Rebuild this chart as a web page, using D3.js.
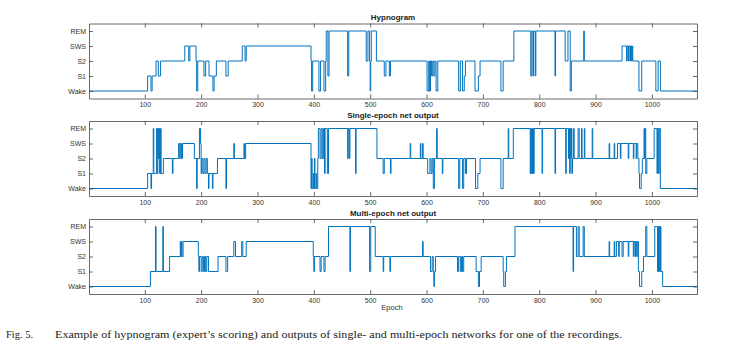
<!DOCTYPE html>
<html><head><meta charset="utf-8">
<script src="https://cdn.jsdelivr.net/npm/d3@7"></script>
<style>
body{margin:0;background:#fff;}
svg{display:block;}
.tk text{font-family:"Liberation Sans",Arial,sans-serif;font-size:7px;fill:#333;}
</style></head>
<body>
<script>
// stage labels (bottom -> top)
const stageLabels = ["Wake","S1","S2","SWS","REM"];
const xTicks = [100,200,300,400,500,600,700,800,900,1000];
const panelTitles = ["Hypnogram","Single-epoch net output","Multi-epoch net output"];
const epochMax = 1080;

// change points: [epoch, stage] (0 Wake,1 S1,2 S2,3 SWS,4 REM)
const hypnogram = [[1,0],[105,1],[111,0],[113,1],[120,2],[124,1],[128,2],[171,3],[178,2],[180,3],[191,2],[192,0],[194,2],[205,1],[208,2],[214,1],[221,0],[223,1],[227,2],[244,1],[248,2],[273,3],[278,2],[280,3],[395,2],[396,0],[398,2],[409,0],[412,2],[418,0],[421,2],[422,4],[425,1],[427,4],[460,1],[462,4],[493,2],[496,4],[499,2],[500,0],[501,2],[502,4],[511,2],[525,1],[528,2],[534,1],[536,2],[601,0],[604,2],[605,0],[607,2],[609,1],[611,2],[613,1],[615,2],[617,0],[620,2],[657,0],[660,2],[664,0],[667,1],[669,2],[686,0],[692,1],[695,2],[732,0],[736,2],[755,4],[785,1],[787,4],[789,1],[790,4],[793,1],[794,4],[828,1],[829,4],[846,2],[851,4],[855,0],[857,2],[879,4],[880,2],[947,3],[955,2],[956,3],[958,2],[959,3],[961,2],[962,3],[964,2],[965,3],[966,2],[977,0],[982,2],[1007,0],[1011,2],[1015,0]];

const singleEpoch = [[1,0],[105,1],[111,0],[112,1],[115,4],[116,1],[121,4],[122,1],[123,4],[124,2],[125,4],[126,1],[128,4],[129,1],[133,2],[149,1],[150,2],[160,3],[162,2],[163,3],[165,2],[167,3],[188,2],[192,0],[193,2],[197,4],[199,3],[200,1],[201,2],[203,1],[205,2],[207,1],[209,2],[211,1],[213,0],[214,1],[220,0],[221,1],[229,2],[244,0],[245,2],[258,3],[259,2],[276,3],[277,2],[279,3],[395,0],[396,2],[397,0],[399,1],[400,0],[401,2],[402,0],[404,1],[405,0],[407,2],[408,4],[411,2],[413,4],[415,2],[417,4],[419,1],[420,4],[424,1],[426,4],[460,2],[461,4],[463,2],[464,4],[474,1],[475,4],[512,2],[523,1],[525,2],[536,1],[537,2],[571,3],[572,2],[589,3],[590,2],[593,3],[594,2],[602,1],[606,2],[608,1],[610,2],[612,0],[614,2],[618,4],[619,2],[628,1],[629,2],[657,0],[659,2],[664,0],[666,2],[669,1],[671,2],[687,0],[691,1],[695,2],[732,0],[736,2],[745,4],[746,2],[754,4],[784,1],[785,4],[786,1],[787,4],[788,1],[789,4],[790,1],[791,4],[805,1],[806,4],[828,1],[829,4],[847,1],[848,4],[852,2],[853,4],[854,1],[855,4],[856,2],[857,4],[858,1],[859,2],[861,4],[862,2],[869,4],[871,2],[875,4],[876,2],[880,4],[881,2],[894,4],[895,2],[924,3],[925,2],[933,3],[934,2],[939,3],[944,2],[945,3],[958,2],[959,3],[967,2],[968,3],[972,2],[973,3],[975,2],[977,1],[978,0],[981,1],[983,2],[986,4],[987,2],[988,4],[989,1],[991,2],[1004,4],[1009,1],[1010,4],[1012,1],[1013,4],[1015,0]];

const multiEpoch = [[1,0],[110,1],[119,4],[120,1],[132,4],[133,1],[144,2],[163,3],[164,2],[165,3],[166,2],[168,3],[195,2],[196,1],[197,2],[200,1],[202,2],[204,1],[206,2],[208,1],[210,2],[213,1],[230,2],[244,1],[247,2],[258,3],[261,2],[272,3],[274,2],[280,3],[399,2],[400,1],[401,2],[411,1],[413,2],[418,1],[420,2],[426,4],[464,1],[465,4],[499,1],[501,4],[509,2],[523,1],[524,2],[535,1],[536,2],[593,3],[594,2],[607,1],[610,2],[612,1],[613,0],[614,1],[616,2],[655,1],[657,2],[660,1],[662,2],[664,1],[666,2],[688,1],[692,0],[694,1],[697,2],[736,1],[737,0],[740,1],[742,2],[757,4],[860,1],[861,4],[866,2],[869,4],[871,2],[878,4],[880,2],[924,3],[925,2],[933,3],[934,2],[937,3],[941,2],[942,3],[947,2],[949,3],[958,2],[959,3],[967,2],[968,3],[970,2],[971,3],[973,2],[974,3],[976,1],[978,0],[982,1],[985,2],[989,4],[991,2],[1005,4],[1010,1],[1011,4],[1012,1],[1013,4],[1014,1],[1015,4],[1016,1],[1019,0]];

const seriesList = [hypnogram, singleEpoch, multiEpoch];

const W = 730, H = 353;
const left = 89, right = 697;
const panels = [{top:23.5,bottom:98.5},{top:121,bottom:196},{top:219,bottom:294}];

const svg = d3.select("body").append("svg").attr("width",W).attr("height",H);
const x = d3.scaleLinear().domain([1,epochMax]).range([left,right]);

panels.forEach((p,i)=>{
  const y = d3.scaleLinear().domain([-0.5,4.5]).range([p.bottom,p.top]);
  const g = svg.append("g");
  // line
  const data = seriesList[i].concat([[epochMax, seriesList[i][seriesList[i].length-1][1]]]);
  const line = d3.line().x(d=>x(d[0])).y(d=>y(d[1])).curve(d3.curveStepAfter);
  g.append("path").datum(data).attr("d",line).attr("fill","none")
    .attr("stroke","#0072BD").attr("stroke-width",1);
  // axes
  const ax = (gen)=>gen.tickSizeOuter(0);
  const gb = g.append("g").attr("class","tk").attr("transform",`translate(0,${p.bottom})`)
    .call(ax(d3.axisBottom(x).tickValues(xTicks).tickSizeInner(-4).tickPadding(4).tickFormat(d3.format("d"))));
  const gt = g.append("g").attr("class","tk").attr("transform",`translate(0,${p.top})`)
    .call(ax(d3.axisTop(x).tickValues(xTicks).tickSizeInner(-4).tickFormat("")));
  const gl = g.append("g").attr("class","tk").attr("transform",`translate(${left},0)`)
    .call(ax(d3.axisLeft(y).tickValues([0,1,2,3,4]).tickSizeInner(-4).tickPadding(3).tickFormat(d=>stageLabels[d])));
  const gr = g.append("g").attr("class","tk").attr("transform",`translate(${right},0)`)
    .call(ax(d3.axisRight(y).tickValues([0,1,2,3,4]).tickSizeInner(-4).tickFormat("")));
  [gb,gt,gl,gr].forEach(a=>{
    a.selectAll(".domain").attr("stroke","#444").attr("stroke-width",0.8);
    a.selectAll(".tick line").attr("stroke","#444").attr("stroke-width",0.8);
  });
  gb.selectAll("text").attr("dy","0.71em");
  // title
  svg.append("text").attr("x",(left+right)/2).attr("y",p.top-3.5)
    .attr("text-anchor","middle").style("font-family","'Liberation Sans',Arial,sans-serif")
    .style("font-size","8px").style("font-weight","bold").attr("fill","#222").text(panelTitles[i]);
});

svg.append("text").attr("x",392).attr("y",310).attr("text-anchor","middle")
  .style("font-family","'Liberation Sans',Arial,sans-serif").style("font-size","7.5px").attr("fill","#333").text("Epoch");

const capFont = "'Liberation Serif','Times New Roman',serif";
svg.append("text").attr("x",6).attr("y",338).style("font-family",capFont).style("font-size","10.5px").attr("fill","#222").text("Fig. 5.");
svg.append("text").attr("x",55).attr("y",338).style("font-family",capFont).style("font-size","10.5px").attr("fill","#222")
  .attr("textLength",567).attr("lengthAdjust","spacingAndGlyphs")
  .text("Example of hypnogram (expert’s scoring) and outputs of single- and multi-epoch networks for one of the recordings.");
</script>
</body></html>
